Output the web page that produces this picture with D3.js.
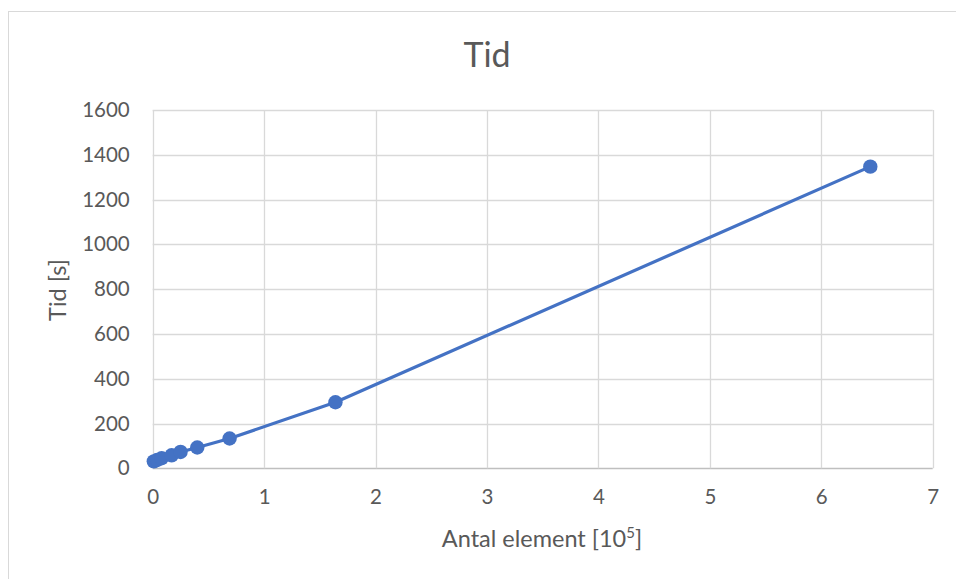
<!DOCTYPE html>
<html>
<head>
<meta charset="utf-8">
<script src="https://cdn.jsdelivr.net/npm/d3@7"></script>
<style>
  html, body { margin: 0; padding: 0; background: #fff; }
  svg { display: block; }
</style>
</head>
<body>
<svg id="chart" width="956" height="579"></svg>
<script>
// Data (x in units of 10^5 elements, y in seconds)
const antalElement = [0.01, 0.04, 0.08, 0.17, 0.25, 0.40, 0.69, 1.64, 6.44];
const tidSekunder  = [31, 37, 45, 58, 73, 93, 133, 295, 1347];
const xTicks = [0, 1, 2, 3, 4, 5, 6, 7];
const yTicks = [0, 200, 400, 600, 800, 1000, 1200, 1400, 1600];
const chartTitle = "Tid";
const xTitle = "Antal element [10";
const xTitleSup = "5";
const yTitle = "Tid [s]";

const W = 956, H = 579;
const margin = { left: 152.7, right: W - 932.7, top: 110, bottom: H - 468.3 };
const font = "Lato, 'Open Sans', sans-serif";
const textColor = "#595959";
const gridColor = "#d9d9d9";
const lineColor = "#4472C4";

const svg = d3.select("#chart");

// chart area border (only top/left visible in reference)
svg.append("rect")
  .attr("x", 8.5).attr("y", 11.5)
  .attr("width", 1000).attr("height", 700)
  .attr("fill", "none").attr("stroke", gridColor).attr("stroke-width", 1);

const x = d3.scaleLinear().domain([0, 7]).range([margin.left, W - margin.right]);
const y = d3.scaleLinear().domain([0, 1600]).range([H - margin.bottom, margin.top]);

// gridlines
const grid = svg.append("g");
grid.selectAll("line.h").data(yTicks).join("line")
  .attr("class", "h")
  .attr("x1", x(0)).attr("x2", x(7))
  .attr("y1", d => Math.round(y(d)) + 0.5).attr("y2", d => Math.round(y(d)) + 0.5)
  .attr("stroke", d => d === 0 ? "#bfbfbf" : gridColor).attr("stroke-width", 1.3);
grid.selectAll("line.v").data(xTicks).join("line")
  .attr("class", "v")
  .attr("y1", y(0)).attr("y2", y(1600))
  .attr("x1", d => Math.round(x(d)) + 0.5).attr("x2", d => Math.round(x(d)) + 0.5)
  .attr("stroke", gridColor).attr("stroke-width", 1.3);

// axes (labels only)
const yAxis = d3.axisLeft(y).tickValues(yTicks).tickFormat(d3.format("d")).tickSize(0).tickPadding(23);
const gy = svg.append("g").attr("transform", `translate(${x(0)},0)`).call(yAxis);
gy.select(".domain").remove();
gy.selectAll("text").attr("font-family", font).attr("font-size", 20.5).attr("fill", textColor);

const xAxis = d3.axisBottom(x).tickValues(xTicks).tickFormat(d3.format("d")).tickSize(0).tickPadding(21);
const gx = svg.append("g").attr("transform", `translate(0,${y(0)})`).call(xAxis);
gx.select(".domain").remove();
gx.selectAll("text").attr("font-family", font).attr("font-size", 20.5).attr("fill", textColor);

// line + markers
const pts = antalElement.map((v, i) => [v, tidSekunder[i]]);
svg.append("path")
  .datum(pts)
  .attr("d", d3.line().x(d => x(d[0])).y(d => y(d[1])))
  .attr("fill", "none").attr("stroke", lineColor).attr("stroke-width", 3.2)
  .attr("stroke-linejoin", "round").attr("stroke-linecap", "round");
svg.append("g").selectAll("circle").data(pts).join("circle")
  .attr("cx", d => x(d[0])).attr("cy", d => y(d[1])).attr("r", 7.2)
  .attr("fill", lineColor);

// titles
svg.append("text")
  .attr("x", 487).attr("y", 66.5)
  .attr("text-anchor", "middle")
  .attr("font-family", font).attr("font-size", 34).attr("fill", textColor)
  .text(chartTitle);

const xt = svg.append("text")
  .attr("x", 542).attr("y", 547.3)
  .attr("text-anchor", "middle")
  .attr("font-family", font).attr("font-size", 23.5).attr("fill", textColor);
xt.append("tspan").text(xTitle);
xt.append("tspan").attr("font-size", 15).attr("dy", -9).text(xTitleSup);
xt.append("tspan").attr("dy", 9).text("]");

svg.append("text")
  .attr("transform", `translate(66,290) rotate(-90)`)
  .attr("text-anchor", "middle")
  .attr("font-family", font).attr("font-size", 23.5).attr("fill", textColor)
  .text(yTitle);
</script>
</body>
</html>
